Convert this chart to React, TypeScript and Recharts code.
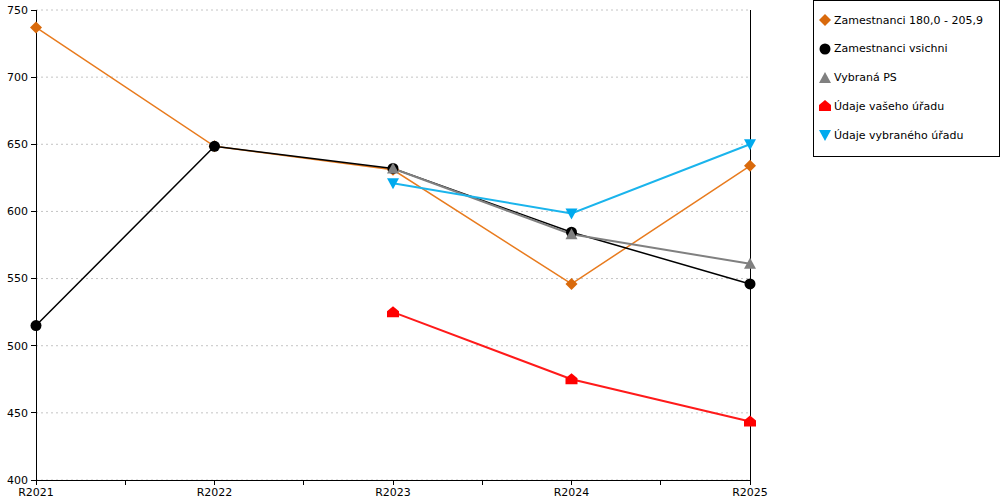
import { LineChart, Line, XAxis, YAxis, CartesianGrid, ReferenceLine } from 'recharts'

const YEARS = ['R2021', 'R2022', 'R2023', 'R2024', 'R2025']
const Y_TICKS = [400, 450, 500, 550, 600, 650, 700, 750]
const X_TICKS = [0, 0.5, 1, 1.5, 2, 2.5, 3, 3.5, 4]

const zamRange = [737, 648.5, 631, 546, 634]
const zamAll = [515, 648.5, 632, 584.5, 546]
const vybranaPS = [null, null, 632, 583, 561]
const vasUrad = [null, null, 525, 475, 443.5]
const vybranyUrad = [null, null, 621, 598.5, 650]

const SERIES = [
    { key: 'a', name: 'Zamestnanci 180,0 - 205,9', color: '#e87b1e', marker: '#d96a0c', shape: 'diamond', width: 1.5 },
    { key: 'b', name: 'Zamestnanci vsichni', color: '#000000', marker: '#000000', shape: 'circle', width: 1.5 },
    { key: 'c', name: 'Vybraná PS', color: '#808080', marker: '#808080', shape: 'up', width: 2 },
    { key: 'd', name: 'Údaje vašeho úřadu', color: '#ff1a1a', marker: '#ff0000', shape: 'house', width: 2 },
    { key: 'e', name: 'Údaje vybraného úřadu', color: '#1ab4ec', marker: '#00aaee', shape: 'down', width: 2 },
]

const FONT = 'DejaVu Sans, Verdana, sans-serif'

const data = YEARS.map((_, i) => ({
    idx: i,
    a: zamRange[i],
    b: zamAll[i],
    c: vybranaPS[i],
    d: vasUrad[i],
    e: vybranyUrad[i],
}))

function Marker({ shape, x, y, fill }: { shape: string, x: number, y: number, fill: string }) {
    if (shape === 'diamond') return <path d={`M${x},${y - 6}L${x + 6},${y}L${x},${y + 6}L${x - 6},${y}Z`} fill={fill} />
    if (shape === 'circle') return <circle cx={x} cy={y} r={5.5} fill={fill} />
    if (shape === 'up') return <path d={`M${x},${y - 6}L${x + 6},${y + 5}L${x - 6},${y + 5}Z`} fill={fill} />
    if (shape === 'down') return <path d={`M${x - 6},${y - 5}L${x + 6},${y - 5}L${x},${y + 6}Z`} fill={fill} />
    return <path d={`M${x},${y - 6}L${x + 6},${y - 1}L${x + 6},${y + 5}L${x - 6},${y + 5}L${x - 6},${y - 1}Z`} fill={fill} />
}

function makeDot(shape: string, fill: string) {
    return (p: any) => {
        if (p.value == null || p.cx == null || p.cy == null) return <g key={p.key} />
        return <g key={p.key}><Marker shape={shape} x={p.cx} y={p.cy} fill={fill} /></g>
    }
}

function LegendBox() {
    return (
        <div style={{
            position: 'absolute', left: 813, top: 0, width: 185, height: 155,
            border: '1px solid #000', fontFamily: FONT, fontSize: 11, color: '#000', background: '#fff',
        }}>
            {SERIES.map((s, i) => (
                <div key={s.key} style={{ position: 'absolute', top: 12 + i * 28.8, left: 4, display: 'flex', alignItems: 'center', whiteSpace: 'nowrap' }}>
                    <svg width={14} height={14}><Marker shape={s.shape} x={7} y={7} fill={s.marker} /></svg>
                    <span style={{ marginLeft: 2 }}>{s.name}</span>
                </div>
            ))}
        </div>
    )
}

const axisStroke = { stroke: '#000', shapeRendering: 'crispEdges' }

export default function App() {
    return (
        <div style={{ position: 'absolute', left: 0, top: 0, width: 1000, height: 500, background: '#fff' }}>
            <LineChart width={1000} height={500} data={data} margin={{ top: 10, right: 250, bottom: 0, left: 0 }}
                style={{ fontFamily: FONT }}>
                <CartesianGrid horizontal vertical={false} stroke="#c4c4c4" strokeDasharray="2 3" />
                <XAxis type="number" dataKey="idx" domain={[0, 4]} ticks={X_TICKS} interval={0} height={20}
                    tickFormatter={(v: number) => Number.isInteger(v) ? YEARS[v] : ''}
                    stroke="#000" axisLine={axisStroke} tickLine={axisStroke}
                    tickSize={5} tick={{ fill: '#000', fontSize: 11 }} tickMargin={3} />
                <YAxis domain={[400, 750]} ticks={Y_TICKS} interval={0} width={36}
                    stroke="#000" axisLine={axisStroke} tickLine={axisStroke}
                    tickSize={5} tick={{ fill: '#000', fontSize: 11 }} tickMargin={3} />
                <ReferenceLine x={4} stroke="#000" strokeWidth={1} shapeRendering="crispEdges" />
                {SERIES.map(s => (
                    <Line key={s.key} dataKey={s.key} name={s.name} stroke={s.color} strokeWidth={s.width}
                        dot={makeDot(s.shape, s.marker)} activeDot={false} isAnimationActive={false} />
                ))}
            </LineChart>
            <LegendBox />
        </div>
    )
}
